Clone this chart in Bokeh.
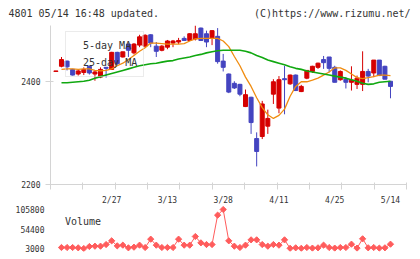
import numpy as np
from bokeh.plotting import figure
from bokeh.models import Range1d, FixedTicker, ColumnDataSource, Legend, LegendItem, Label
from bokeh.layouts import column, row
from bokeh.embed import file_html
from bokeh.resources import INLINE

# ---- data ----
day = list(range(-1, 60))
open_ = [2419, 2429, 2439, 2423, 2414, 2417, 2429, 2414, 2408, 2427, 2423, 2456, 2447, 2472, 2455, 2470,
         2468, 2490, 2468, 2460, 2466, 2474, 2476, 2483, 2479, 2482, 2503, 2492, 2483, 2487, 2439,
         2414, 2396, 2394, 2351, 2369, 2289, 2293, 2313, 2375, 2348, 2405, 2395, 2412, 2380, 2406,
         2419, 2427, 2442, 2447, 2427, 2403, 2404, 2398, 2394, 2394, 2419, 2416, 2441, 2429, 2400]
high = [2420, 2447, 2440, 2424, 2422, 2427, 2430, 2421, 2427, 2427, 2457, 2457, 2457, 2473, 2474, 2490,
        2491, 2491, 2476, 2470, 2480, 2480, 2484, 2487, 2493, 2508, 2504, 2498, 2499, 2503, 2453,
        2415, 2400, 2395, 2384, 2370, 2301, 2362, 2345, 2404, 2410, 2430, 2413, 2413, 2393, 2421,
        2430, 2436, 2449, 2447, 2430, 2421, 2408, 2429, 2411, 2458, 2424, 2441, 2441, 2430, 2400]
low = [2419, 2427, 2421, 2411, 2411, 2412, 2413, 2401, 2406, 2407, 2422, 2432, 2446, 2447, 2452, 2466,
       2465, 2466, 2447, 2458, 2462, 2466, 2472, 2479, 2478, 2479, 2478, 2466, 2470, 2434, 2419,
       2377, 2385, 2371, 2350, 2298, 2235, 2288, 2298, 2356, 2338, 2336, 2393, 2381, 2379, 2404,
       2416, 2424, 2424, 2417, 2398, 2401, 2386, 2382, 2385, 2381, 2398, 2408, 2410, 2404, 2367]
close = [2420, 2442, 2428, 2412, 2420, 2423, 2416, 2418, 2423, 2425, 2456, 2434, 2457, 2460, 2472, 2486,
         2489, 2474, 2458, 2468, 2478, 2478, 2479, 2479, 2492, 2492, 2479, 2476, 2498, 2438, 2427,
         2379, 2387, 2375, 2374, 2320, 2264, 2356, 2328, 2399, 2403, 2403, 2412, 2382, 2390, 2421,
         2429, 2435, 2436, 2425, 2398, 2419, 2398, 2402, 2406, 2419, 2410, 2441, 2411, 2404, 2390]

ma_day = list(range(0, 60))
ma5 = [2423, 2424, 2424, 2423, 2424, 2424, 2421, 2420, 2421, 2424, 2430, 2435, 2442, 2450, 2458,
       2465, 2474, 2474, 2473, 2472, 2472, 2472, 2473, 2478, 2482, 2483, 2483, 2483, 2483, 2478,
       2467, 2448, 2430, 2408, 2390, 2368, 2349, 2335, 2328, 2334, 2346, 2371, 2390, 2399, 2399,
       2402, 2406, 2412, 2418, 2426, 2426, 2421, 2414, 2407, 2405, 2407, 2409, 2412, 2412, 2411]
ma25 = [2397, 2397, 2398, 2399, 2400, 2402, 2406, 2409, 2412, 2415, 2418, 2421, 2424, 2427, 2430,
        2432, 2434, 2435, 2437, 2439, 2440, 2443, 2445, 2447, 2450, 2452, 2455, 2457, 2459, 2460,
        2460, 2460, 2460, 2458, 2455, 2450, 2446, 2441, 2438, 2435, 2432, 2428, 2425, 2423, 2420,
        2418, 2416, 2414, 2412, 2410, 2408, 2406, 2403, 2400, 2396, 2394, 2395, 2398, 2399, 2400]

vol_day = list(range(0, 60))
volume = [5600, 5600, 5600, 4800, 3000, 8300, 9100, 9100, 13500, 23200, 10000, 11800, 4800, 6500, 11800,
          5600, 27600, 11800, 5600, 5600, 5600, 27600, 11800, 11800, 34600, 17900, 13500, 13500, 90900, 105800,
          23200, 9100, 5600, 11800, 25800, 25800, 13500, 9100, 13500, 11800, 25800, 3500, 4800, 3500, 5600,
          4000, 4800, 11800, 5600, 4000, 5600, 5600, 14400, 4000, 28500, 4800, 5600, 4000, 4800, 14400]

date_ticks = [9, 19, 29, 39, 49, 59]
date_labels = ["2/27", "3/13", "3/28", "4/11", "4/25", "5/14"]
price_ticks = [2200, 2400]
volume_ticks = [3000, 54400, 105800]
volume_labels = ["3000", "54400", "105800"]
title_left = "4801 05/14 16:48 updated."
title_right = "(C)https://www.rizumu.net/"

# ---- styling ----
MONO = "DejaVu Sans Mono"
RED = "#d60000"
BLUE = "#4444c0"
ORANGE = "#f08c10"
GREEN = "#10a810"
VOLC = "#ff5c5c"
AXC = "#d4d4d4"
TXT = "#333333"
W = 418

X0, X1 = -1.97, 61.87
xr = Range1d(X0, X1)

# ---- header with the two texts (own frame covering the whole strip) ----
hd = figure(width=W, height=25, x_range=Range1d(0, W), y_range=Range1d(0, 25),
            x_axis_type=None, y_axis_type=None, output_backend="svg", toolbar_location=None,
            min_border_left=0, min_border_right=0, min_border_top=0, min_border_bottom=0)
hd.title.visible = False
hd.outline_line_color = None
hd.grid.visible = False
hd.add_layout(Label(x=8, y=12.5, text=title_left, text_font=MONO, text_font_size="10px",
                    text_color=TXT, text_align="left", text_baseline="middle"))
hd.add_layout(Label(x=410, y=12.5, text=title_right, text_font=MONO, text_font_size="10px",
                    text_color=TXT, text_align="right", text_baseline="middle"))

# ---- price chart ----
o = np.array(open_); c = np.array(close); h = np.array(high); l = np.array(low)
up = c >= o
src_up = ColumnDataSource(dict(x=np.array(day)[up], top=np.maximum(o, c)[up], bottom=np.minimum(o, c)[up],
                               high=h[up], low=l[up]))
src_dn = ColumnDataSource(dict(x=np.array(day)[~up], top=np.maximum(o, c)[~up], bottom=np.minimum(o, c)[~up],
                               high=h[~up], low=l[~up]))

p = figure(width=W, height=165, x_range=xr, y_range=Range1d(2200, 2508),
           output_backend="svg", toolbar_location=None,
           min_border_left=50, min_border_right=W - 406, min_border_top=0, min_border_bottom=6)
p.title.visible = False
p.outline_line_color = None
p.grid.visible = False

for src, col in ((src_up, RED), (src_dn, BLUE)):
    p.segment(x0="x", y0="low", x1="x", y1="high", source=src, line_color=col, line_width=1)
    p.vbar(x="x", width=0.72, top="top", bottom="bottom", source=src,
           fill_color=col, line_color=col, line_width=1)

p.line(ma_day, ma5, line_color=ORANGE, line_width=1.3)
p.line(ma_day, ma25, line_color=GREEN, line_width=1.6)

d1 = p.vbar(x=[], top=[], width=0.5, fill_color=ORANGE, line_color="#444444", line_width=1)
d2 = p.vbar(x=[], top=[], width=0.5, fill_color=GREEN, line_color="#444444", line_width=1)
leg = Legend(items=[LegendItem(label="5-day MA", renderers=[d1]),
                    LegendItem(label="25-day MA", renderers=[d2])],
             location=(15, 107), glyph_width=6, glyph_height=15, label_height=15,
             label_standoff=5, spacing=2, padding=6, margin=0,
             border_line_color="#d8d8d8", border_line_width=1, background_fill_alpha=0,
             label_text_font=MONO, label_text_font_size="10px", label_text_color=TXT)
p.add_layout(leg, "center")

ya = p.yaxis[0]
ya.ticker = FixedTicker(ticks=price_ticks)
ya.axis_line_color = AXC
ya.major_tick_line_color = AXC
ya.major_tick_in = 3
ya.major_tick_out = 5
ya.minor_tick_line_color = None
ya.major_label_standoff = 5
ya.major_label_text_font = MONO
ya.major_label_text_font_size = "8px"
ya.major_label_text_color = TXT

# bottom axis: tick marks only (minor ticks carry no labels)
xa = p.xaxis[0]
xa.ticker = FixedTicker(ticks=[], minor_ticks=list(np.linspace(X0 + 1e-6, X1 - 1e-6, 12)))
xa.axis_line_color = AXC
xa.major_tick_line_color = AXC
xa.major_tick_in = 2
xa.major_tick_out = 5
xa.minor_tick_line_color = AXC
xa.minor_tick_in = 2
xa.minor_tick_out = 5
xa.major_label_standoff = 0

# ---- volume chart ----
vspan = 102800 / 39.0
p2 = figure(width=W, height=68, x_range=xr,
            y_range=Range1d(3000 - 3 * vspan, 105800 + 4 * vspan),
            output_backend="svg", toolbar_location=None, x_axis_location="above",
            min_border_left=50, min_border_right=W - 406, min_border_top=15, min_border_bottom=7)
p2.title.visible = False
p2.outline_line_color = None
p2.grid.visible = False
p2.line(vol_day, volume, line_color=VOLC, line_width=1)
p2.scatter(vol_day, volume, marker="square", angle=np.pi / 4, size=4.4, fill_color=VOLC, line_color=VOLC)

d3 = p2.vbar(x=[], top=[], width=0.5, fill_color=VOLC, line_color="#444444", line_width=1)
leg2 = Legend(items=[LegendItem(label="Volume", renderers=[d3])],
              location=(4, 22), glyph_width=6, glyph_height=15, label_height=15,
              label_standoff=5, padding=0, margin=0, border_line_color=None, background_fill_alpha=0,
              label_text_font=MONO, label_text_font_size="10px", label_text_color=TXT)
p2.add_layout(leg2, "center")

xa2 = p2.xaxis[0]
xa2.ticker = FixedTicker(ticks=date_ticks)
xa2.major_label_overrides = {t: s for t, s in zip(date_ticks, date_labels)}
xa2.axis_line_color = None
xa2.major_tick_line_color = None
xa2.minor_tick_line_color = None
xa2.major_tick_in = 0
xa2.major_tick_out = 0
xa2.major_label_standoff = 1
xa2.major_label_text_font = MONO
xa2.major_label_text_font_size = "8px"
xa2.major_label_text_color = TXT

ya2 = p2.yaxis[0]
ya2.ticker = FixedTicker(ticks=volume_ticks)
ya2.major_label_overrides = {t: s for t, s in zip(volume_ticks, volume_labels)}
ya2.axis_line_color = None
ya2.major_tick_line_color = None
ya2.minor_tick_line_color = None
ya2.major_tick_in = 0
ya2.major_tick_out = 0
ya2.major_label_standoff = 6
ya2.major_label_text_font = MONO
ya2.major_label_text_font_size = "8px"
ya2.major_label_text_color = TXT

layout = column(row(hd), column(p, p2, spacing=0), spacing=0)
open("out.html", "w").write(file_html(layout, INLINE))
